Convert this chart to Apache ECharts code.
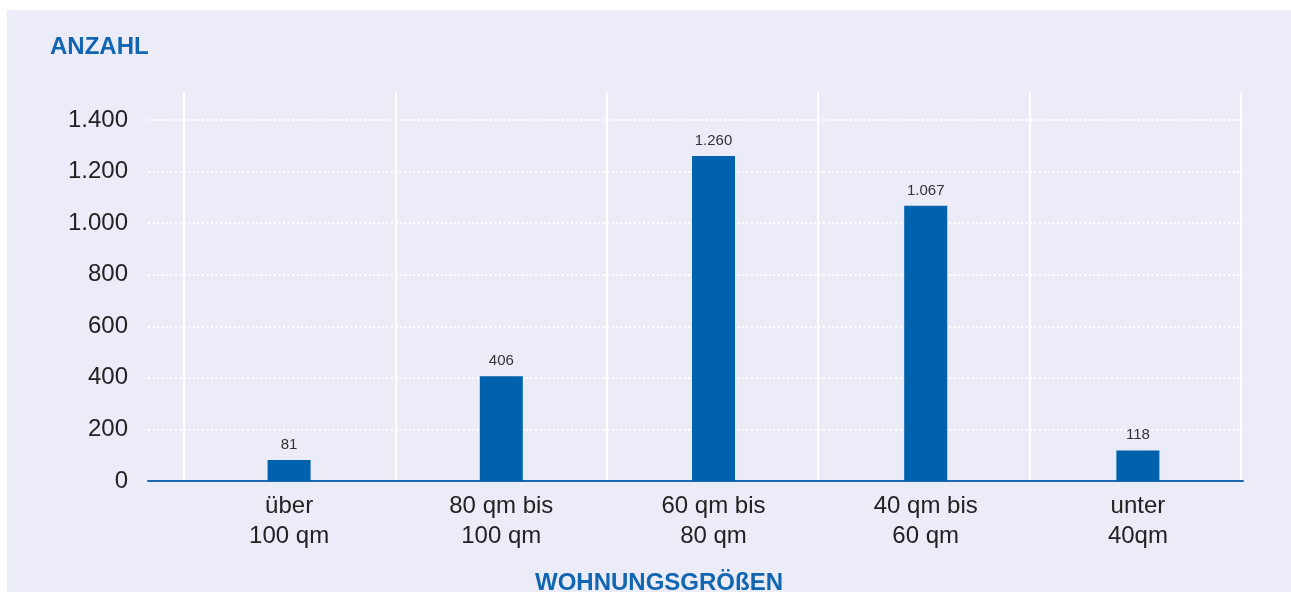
<!DOCTYPE html>
<html>
<head>
<meta charset="utf-8">
<script src="https://cdn.jsdelivr.net/npm/echarts@6/dist/echarts.min.js"></script>
<style>
  html, body { margin: 0; padding: 0; background: #ffffff; }
  #panel { position: absolute; left: 7px; top: 10px; right: 0; bottom: 0; background: #EBECF7; }
  #chart { position: absolute; left: 0; top: 0; width: 1291px; height: 592px; }
</style>
</head>
<body>
<div id="panel"></div>
<div id="chart"></div>
<script>
// Wohnungen nach Größe
const categories = ['über\n100 qm', '80 qm bis\n100 qm', '60 qm bis\n80 qm', '40 qm bis\n60 qm', 'unter\n40qm'];
const anzahl = [81, 406, 1260, 1067, 118];
const yTicks = [0, 200, 400, 600, 800, 1000, 1200, 1400];

const BLUE = '#0062AD';
const TITLE_BLUE = '#1265B0';
const FONT = '"Liberation Sans", Arial, Helvetica, sans-serif';

// German thousands separator: 1260 -> "1.260"
const fmt = v => String(v).replace(/\B(?=(\d{3})+(?!\d))/g, '.');

const chart = echarts.init(document.getElementById('chart'), null, { renderer: 'canvas' });

const plotTop = 120, plotBottom = 111;

chart.setOption({
  backgroundColor: 'transparent',
  animation: false,
  textStyle: { fontFamily: FONT },
  title: [
    { text: 'ANZAHL', left: 50, top: 35, padding: 0,
      textStyle: { color: TITLE_BLUE, fontSize: 24, fontWeight: 'bold', fontFamily: FONT } },
    { text: 'WOHNUNGSGRÖßEN', left: 535, top: 571, padding: 0,
      textStyle: { color: TITLE_BLUE, fontSize: 24, fontWeight: 'bold', fontFamily: FONT } }
  ],
  grid: [
    // value grid: y labels, dotted gridlines, baseline
    { left: 148, right: 48, top: plotTop, bottom: plotBottom, containLabel: false },
    // bars and category labels
    { left: 183, right: 47, top: plotTop, bottom: plotBottom, containLabel: false },
    // vertical separators, reaching above the top gridline
    { left: 184, right: 50, top: 92, bottom: plotBottom, containLabel: false }
  ],
  xAxis: [
    { gridIndex: 0, type: 'category', data: categories,
      axisLine: { show: true, lineStyle: { color: '#1A68B2', width: 2 } },
      axisTick: { show: false }, axisLabel: { show: false }, splitLine: { show: false } },
    { gridIndex: 1, type: 'category', data: categories,
      axisLine: { show: false }, axisTick: { show: false },
      axisLabel: { color: '#222', fontSize: 24, lineHeight: 30, margin: 10, interval: 0, fontFamily: FONT },
      splitLine: { show: false } },
    { gridIndex: 2, type: 'category', data: categories,
      axisLine: { show: false }, axisTick: { show: false }, axisLabel: { show: false },
      splitLine: { show: true, interval: 0, lineStyle: { color: '#ffffff', width: 2 } } }
  ],
  yAxis: [
    { gridIndex: 0, type: 'value', min: yTicks[0], max: yTicks[yTicks.length - 1], interval: yTicks[1] - yTicks[0],
      axisLine: { show: false }, axisTick: { show: false },
      axisLabel: { color: '#222', fontSize: 24, margin: 20, fontFamily: FONT, formatter: fmt },
      splitLine: { show: true, lineStyle: { color: '#ffffff', width: 2, type: [2, 2.5] } } },
    { gridIndex: 1, type: 'value', min: yTicks[0], max: yTicks[yTicks.length - 1], interval: yTicks[1] - yTicks[0],
      show: false },
    { gridIndex: 2, type: 'value', show: false, min: 0, max: 1 }
  ],
  series: [
    { type: 'bar', xAxisIndex: 1, yAxisIndex: 1, data: anzahl, barWidth: 43,
      itemStyle: { color: BLUE },
      label: { show: true, position: 'top', distance: 8, color: '#333', fontSize: 15, fontFamily: FONT,
        formatter: p => fmt(p.value) } }
  ]
});
</script>
</body>
</html>
